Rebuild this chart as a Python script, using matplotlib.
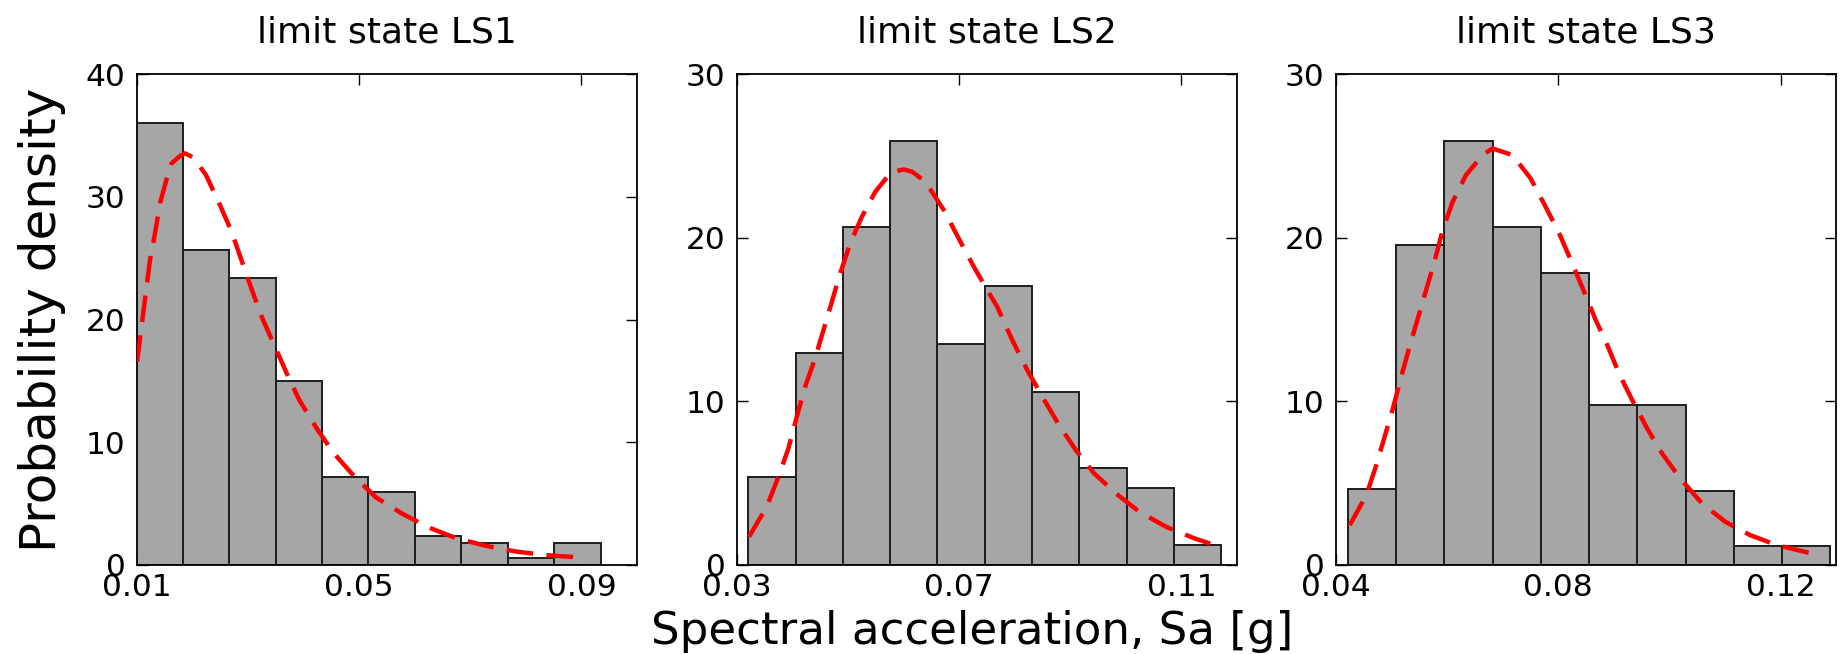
import matplotlib
matplotlib.use("Agg")
import matplotlib.pyplot as plt
from matplotlib.ticker import FormatStrFormatter

# ---- histogram data: bin edges (g) and probability densities ----
ls1_edges = [0.00995, 0.0183, 0.02665, 0.035, 0.04335, 0.0517,
             0.06005, 0.0684, 0.07675, 0.0851, 0.09345]
ls1_density = [36.0, 25.7, 23.35, 15.0, 7.14, 5.92, 2.36, 1.76, 0.56, 1.76]

ls2_edges = [0.0321, 0.04061, 0.04912, 0.05763, 0.06614, 0.07465,
             0.08316, 0.09167, 0.10018, 0.10869, 0.1172]
ls2_density = [5.36, 12.93, 20.63, 25.9, 13.5, 17.04, 10.59, 5.9, 4.68, 1.22]

ls3_edges = [0.0422, 0.05088, 0.05955, 0.06823, 0.0769, 0.08558,
             0.09425, 0.10293, 0.1116, 0.12028, 0.12895]
ls3_density = [4.64, 19.55, 25.9, 20.63, 17.84, 9.75, 9.75, 4.54, 1.18, 1.18]

# ---- fitted lognormal densities ----
ls1_fit_x = [0.0101, 0.01147, 0.01243, 0.01333, 0.01422, 0.01542, 0.0163,
             0.0177, 0.0187, 0.0202, 0.0225, 0.025, 0.02711, 0.02891,
             0.03071, 0.03262, 0.0349, 0.037, 0.03927, 0.04227, 0.04539,
             0.0491, 0.05306, 0.05767, 0.06246, 0.06756, 0.07295, 0.07835,
             0.08344, 0.08943, 0.0906]
ls1_fit_y = [16.56, 21.45, 24.85, 27.02, 29.46, 31.45, 32.72,
             33.27, 33.54, 33.2, 31.77, 29.33, 27.15, 24.79,
             22.46, 20.1, 17.79, 15.62, 13.44, 11.22, 9.15,
             7.25, 5.51, 4.21, 3.07, 2.17, 1.55, 1.09,
             0.81, 0.62, 0.6]

ls2_fit_x = [0.03225, 0.03544, 0.03754, 0.03934, 0.04084, 0.04234, 0.04402,
             0.04565, 0.04715, 0.04865, 0.05045, 0.05255, 0.05495, 0.05736,
             0.05826, 0.06006, 0.06156, 0.06397, 0.06727, 0.07027, 0.07268,
             0.07508, 0.07688, 0.07959, 0.08229, 0.08499, 0.088, 0.091,
             0.0943, 0.0982, 0.1024, 0.10722, 0.11232, 0.11683]
ls2_fit_y = [1.73, 3.56, 5.39, 7.13, 9.06, 10.89, 12.52,
             14.36, 16.09, 17.82, 19.65, 21.28, 22.8, 23.82,
             24.03, 24.17, 24.03, 23.42, 21.69, 19.75, 18.22,
             16.8, 15.78, 13.74, 11.91, 10.28, 8.55, 7.03,
             5.6, 4.38, 3.26, 2.34, 1.63, 1.12]

ls3_fit_x = [0.04254, 0.04552, 0.04731, 0.0488, 0.05029, 0.05178, 0.05328,
             0.05477, 0.05626, 0.05775, 0.05924, 0.06103, 0.06342, 0.0664,
             0.06819, 0.07177, 0.07505, 0.07774, 0.08019, 0.08228, 0.08466,
             0.08675, 0.08884, 0.09093, 0.09331, 0.096, 0.09868, 0.10196,
             0.10584, 0.11002, 0.11449, 0.11927, 0.12553, 0.1264]
ls3_fit_y = [2.44, 4.28, 6.11, 7.84, 9.57, 11.5, 13.34,
             15.07, 16.8, 18.53, 20.46, 22.19, 23.82, 25.05,
             25.45, 25.05, 23.62, 21.89, 20.26, 18.63, 16.7,
             14.97, 13.44, 11.71, 10.08, 8.35, 6.82, 5.29,
             3.77, 2.65, 1.83, 1.22, 0.71, 0.68]

titles = ["limit state LS1", "limit state LS2", "limit state LS3"]
x_limits = [(0.01, 0.10), (0.03, 0.12), (0.04, 0.13)]
x_ticks = [[0.01, 0.05, 0.09], [0.03, 0.07, 0.11], [0.04, 0.08, 0.12]]
y_limits = [(0, 40), (0, 30), (0, 30)]
y_ticks = [[0, 10, 20, 30, 40], [0, 10, 20, 30], [0, 10, 20, 30]]

panels = [
    (ls1_edges, ls1_density, ls1_fit_x, ls1_fit_y),
    (ls2_edges, ls2_density, ls2_fit_x, ls2_fit_y),
    (ls3_edges, ls3_density, ls3_fit_x, ls3_fit_y),
]

W, H = 1845, 654
fig = plt.figure(figsize=(W / 100, H / 100), dpi=100)
fig.patch.set_facecolor("white")

ax_left_px = [136.5, 736.5, 1335.7]
ax_w_px = 500.5
ax_top_px, ax_bot_px = 74, 565

axes = []
for i, (edges, dens, fx, fy) in enumerate(panels):
    ax = fig.add_axes([ax_left_px[i] / W, (H - ax_bot_px) / H,
                       ax_w_px / W, (ax_bot_px - ax_top_px) / H])
    axes.append(ax)
    widths = [edges[k + 1] - edges[k] for k in range(len(dens))]
    ax.bar(edges[:-1], dens, width=widths, align="edge",
           facecolor="#a6a6a6", edgecolor="#1e1e1e", linewidth=1.4, zorder=2)
    ax.plot(fx, fy, color="red", linewidth=3.2, linestyle=(0, (6.0, 3.0)),
            zorder=3)
    ax.set_xlim(*x_limits[i])
    ax.set_ylim(*y_limits[i])
    ax.set_xticks(x_ticks[i])
    ax.set_yticks(y_ticks[i])
    ax.xaxis.set_major_formatter(FormatStrFormatter("%.2f"))
    ax.tick_params(axis="both", which="major", direction="in", length=8,
                   width=1.0, top=True, right=True, labelsize=22.5,
                   colors="#000000")
    ax.tick_params(axis="x", pad=6.0)
    ax.tick_params(axis="y", pad=8.0)
    for sp in ax.spines.values():
        sp.set_linewidth(1.3)
    ax.set_title(titles[i], fontsize=26, pad=23)

axes[0].set_ylabel("Probability density", fontsize=36)
axes[0].yaxis.set_label_coords(-0.141, 0.5)

fig.text(972 / W, (H - 644) / H,
         "Spectral acceleration, Sa [g]", fontsize=32.5,
         ha="center", va="baseline")

fig.savefig("out.png", dpi=100, facecolor="white")
